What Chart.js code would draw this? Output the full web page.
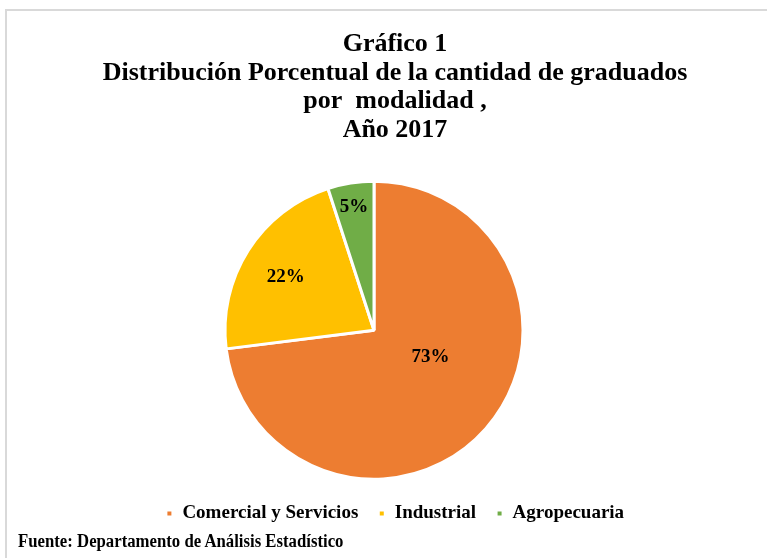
<!DOCTYPE html>
<html>
<head>
<meta charset="utf-8">
<script src="https://cdn.jsdelivr.net/npm/chart.js@4.4.1/dist/chart.umd.min.js"></script>
<style>
  body { margin: 0; background: #fff; }
  #wrap { position: relative; width: 767px; height: 558px; overflow: hidden; background: #fff; }
  #frame { position: absolute; left: 5px; top: 9px; width: 800px; height: 600px;
           border-left: 2px solid #d9d9d9; border-top: 2px solid #d9d9d9; }
  #graf { position: absolute; left: 0; top: 0; }
  #source { position: absolute; left: 18px; top: 531px; white-space: nowrap;
            font: bold 18px "Liberation Serif", serif; color: #000;
            transform: scaleX(0.93); transform-origin: left top; }
</style>
</head>
<body>
<div id="wrap">
  <div id="frame"></div>
  <canvas id="graf" width="767" height="558"></canvas>
  <div id="source">Fuente: Departamento de Análisis Estadístico</div>
</div>
<script>
const modalidades = ["Comercial y Servicios", "Industrial", "Agropecuaria"];
const porcentajes = [73, 22, 5];
const colores = ["#ED7D31", "#FFC000", "#70AD47"];
const titulo = [
  "Gráfico 1",
  "Distribución Porcentual de la cantidad de graduados",
  "por  modalidad ,",
  "Año 2017"
];

// Excel puts the labels "best fit", so each one gets its own spot in the slice
const sliceLabels = {
  id: "sliceLabels",
  afterLayout(chart, args, opts) {
    // pie sits a bit left of the title/legend centre in the original
    chart.chartArea.left += opts.shiftX;
    chart.chartArea.right += opts.shiftX;
  },
  afterDatasetsDraw(chart, args, opts) {
    const ctx = chart.ctx;
    const meta = chart.getDatasetMeta(0);
    ctx.save();
    ctx.font = opts.font;
    ctx.fillStyle = opts.color;
    ctx.textAlign = "center";
    ctx.textBaseline = "middle";
    meta.data.forEach((arc, i) => {
      const p = arc.getProps(["x", "y", "startAngle", "endAngle", "outerRadius"], true);
      const a = p.startAngle + (p.endAngle - p.startAngle) * opts.along[i];
      const r = p.outerRadius * opts.out[i];
      ctx.fillText(porcentajes[i] + "%", p.x + Math.cos(a) * r, p.y + Math.sin(a) * r);
    });
    ctx.restore();
  }
};

const ctx = document.getElementById("graf").getContext("2d");

new Chart(ctx, {
  type: "pie",
  plugins: [sliceLabels],
  data: {
    labels: modalidades,
    datasets: [
      {
        data: porcentajes,
        backgroundColor: colores,
        borderColor: "#ffffff",
        borderWidth: 3,
        hoverOffset: 0,
        radius: 149,
      },
    ],
  },
  options: {
    responsive: false,
    animation: false,
    layout: {
      padding: { left: 23, right: 0, top: 0, bottom: 25 },
    },
    plugins: {
      tooltip: { enabled: false },
      title: {
        display: true,
        text: titulo,
        color: "#000000",
        font: { family: "'Liberation Serif', serif", size: 26, weight: "bold", lineHeight: 1.1 },
        padding: { top: 30, bottom: 32 },
      },
      legend: {
        position: "bottom",
        labels: {
          color: "#000000",
          boxWidth: 7,
          boxHeight: 7,
          padding: 20,
          font: { family: "'Liberation Serif', serif", size: 19, weight: "bold" },
        },
      },
      sliceLabels: {
        shiftX: -21,
        font: "bold 19px 'Liberation Serif', serif",
        color: "#000000",
        along: [0.44, 0.48, 0.49],
        out: [0.42, 0.69, 0.84],
      },
    },
  },
});
</script>
</body>
</html>
